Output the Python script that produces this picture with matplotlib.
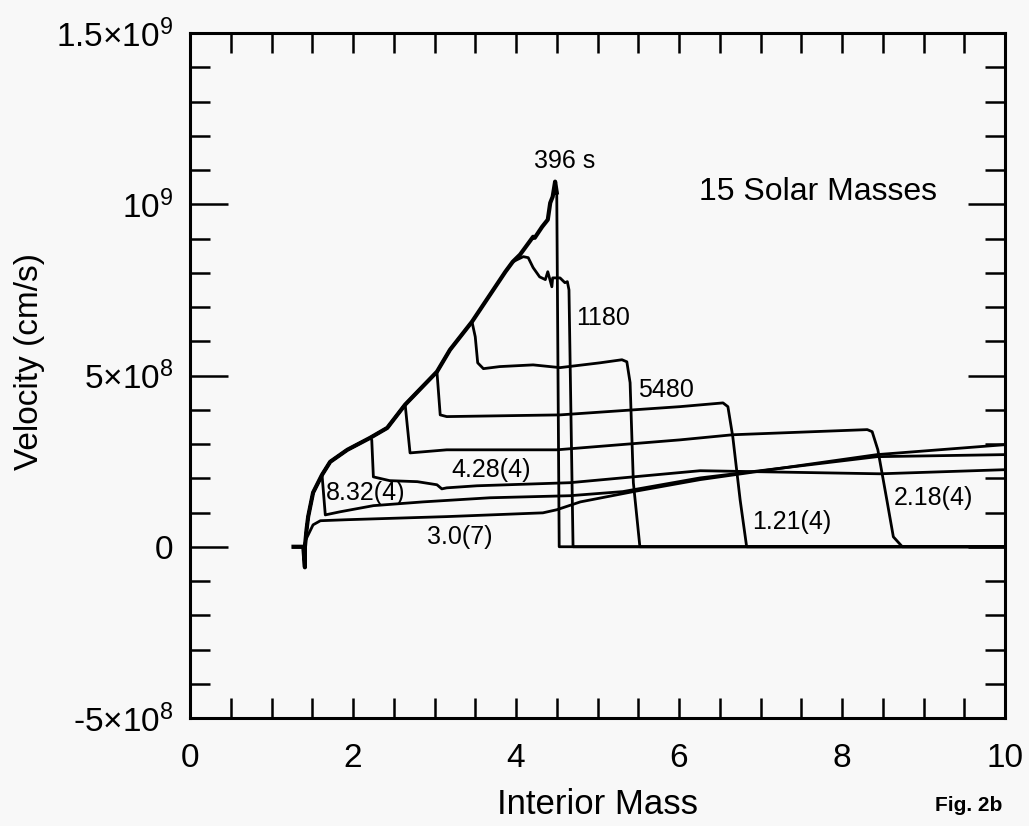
import numpy as np
import matplotlib
matplotlib.use("Agg")
from matplotlib import pyplot as plt
from matplotlib.ticker import MultipleLocator

plt.rcParams['font.family'] = ['Liberation Sans', 'DejaVu Sans']
plt.rcParams['mathtext.fontset'] = 'custom'
plt.rcParams['mathtext.rm'] = 'Liberation Sans'
plt.rcParams['mathtext.it'] = 'Liberation Sans:italic'
plt.rcParams['mathtext.bf'] = 'Liberation Sans:bold'

# velocities in units of 1e9 cm/s, mass in solar masses
# 396 s profile, which is also the common envelope the later profiles leave from
env_x = [1.27, 1.39, 1.41, 1.41, 1.43, 1.45, 1.51, 1.62, 1.72, 1.93, 2.21, 2.42, 2.64, 3.03,
         3.19, 3.46, 3.87, 3.96, 4.05, 4.21, 4.23, 4.32, 4.39, 4.42, 4.45, 4.48, 4.50, 4.53, 10.0]
env_y = [0.0, 0.0, -0.06, 0.0, 0.05, 0.088, 0.158, 0.21, 0.248, 0.283, 0.318, 0.347, 0.415, 0.511,
         0.575, 0.657, 0.803, 0.832, 0.853, 0.905, 0.902, 0.934, 0.955, 1.004, 1.022, 1.066, 1.034, 0.0, 0.0]

t1180_x = [3.96, 4.09, 4.15, 4.21, 4.29, 4.36, 4.39, 4.44, 4.45, 4.54, 4.60, 4.63, 4.65, 4.70, 10.0]
t1180_y = [0.832, 0.847, 0.844, 0.815, 0.788, 0.780, 0.803, 0.759, 0.785, 0.785, 0.771, 0.774, 0.750, 0.0, 0.0]

t5480_x = [3.46, 3.50, 3.53, 3.60, 3.80, 4.21, 4.54, 5.03, 5.30, 5.36, 5.40, 5.44, 5.52, 10.0]
t5480_y = [0.657, 0.613, 0.537, 0.520, 0.526, 0.531, 0.523, 0.537, 0.546, 0.540, 0.479, 0.187, 0.0, 0.0]

t121_x = [3.03, 3.07, 3.15, 4.54, 6.01, 6.54, 6.60, 6.66, 6.75, 6.83, 10.0]
t121_y = [0.511, 0.385, 0.380, 0.385, 0.409, 0.420, 0.409, 0.321, 0.137, 0.0, 0.0]

t218_x = [2.64, 2.70, 3.15, 4.50, 6.01, 6.66, 8.31, 8.37, 8.44, 8.55, 8.63, 8.74, 10.0]
t218_y = [0.415, 0.274, 0.283, 0.283, 0.312, 0.327, 0.342, 0.336, 0.283, 0.137, 0.029, 0.0, 0.0]

t428_x = [2.23, 2.25, 2.45, 2.79, 3.03, 3.09, 3.15, 3.52, 4.66, 6.26, 8.47, 10.0]
t428_y = [0.312, 0.204, 0.193, 0.190, 0.181, 0.169, 0.172, 0.178, 0.187, 0.222, 0.213, 0.225]

t832_x = [1.62, 1.66, 1.84, 2.25, 2.86, 3.68, 4.66, 5.31, 6.26, 8.43, 10.0]
t832_y = [0.21, 0.093, 0.102, 0.120, 0.131, 0.143, 0.149, 0.161, 0.201, 0.263, 0.269]

t3e7_x = [1.42, 1.51, 1.60, 1.93, 3.15, 4.33, 4.50, 4.79, 5.44, 6.26, 8.43, 10.0]
t3e7_y = [0.02, 0.064, 0.076, 0.079, 0.088, 0.099, 0.108, 0.131, 0.161, 0.196, 0.269, 0.298]

branches = [(t1180_x, t1180_y), (t5480_x, t5480_y), (t121_x, t121_y), (t218_x, t218_y),
            (t428_x, t428_y), (t832_x, t832_y), (t3e7_x, t3e7_y)]

# curve labels: text, x, y (left edge, vertical centre)
labels = [("1180", 4.74, 0.669), ("5480", 5.50, 0.458), ("4.28(4)", 3.21, 0.225),
          ("8.32(4)", 1.67, 0.158), ("3.0(7)", 2.91, 0.029), ("1.21(4)", 6.90, 0.073),
          ("2.18(4)", 8.63, 0.143)]

yticks = [-0.5, 0.0, 0.5, 1.0, 1.5]
ytick_labels = [r'-$\mathregular{5{\times}10^8}$', '0', r'$\mathregular{5{\times}10^8}$',
                r'$\mathregular{10^9}$', r'$\mathregular{1.5{\times}10^9}$']
xticks = [0, 2, 4, 6, 8, 10]

bg = '#f8f8f8'
fig = plt.figure(figsize=(10.29, 8.26), dpi=100, facecolor=bg)
ax = fig.add_axes([190 / 1029, 1 - 718 / 826, 815 / 1029, 685 / 826])
ax.set_facecolor(bg)

env_x = np.array(env_x)
env_y = np.array(env_y)
for bx, by in branches:
    keep = env_x < bx[0]
    xx = np.concatenate([env_x[keep], bx])
    yy = np.concatenate([env_y[keep], by])
    ax.plot(xx, yy * 1e9, color='black', lw=2.0, solid_joinstyle='round')
ax.plot(env_x[:-2], env_y[:-2] * 1e9, color='black', lw=3.0, solid_joinstyle='round')
ax.plot(env_x[-3:], env_y[-3:] * 1e9, color='black', lw=2.0, solid_joinstyle='round')

for txt, lx, ly in labels:
    ax.text(lx, ly * 1e9, txt, fontsize=18, ha='left', va='center')
ax.text(4.60, 1.125e9, "396 s", fontsize=18, ha='center', va='center')
ax.text(6.25, 1.036e9, "15 Solar Masses", fontsize=23, ha='left', va='center')

ax.set_xlim(0, 10)
ax.set_ylim(-0.5e9, 1.5e9)
ax.set_xticks(xticks)
ax.set_xticklabels([str(v) for v in xticks])
ax.set_yticks([v * 1e9 for v in yticks])
ax.set_yticklabels(ytick_labels)
ax.xaxis.set_minor_locator(MultipleLocator(0.5))
ax.yaxis.set_minor_locator(MultipleLocator(1e8))

ax.tick_params(which='both', direction='in', top=True, right=True, width=1.8, colors='black')
ax.tick_params(axis='y', which='major', length=27, labelsize=24, pad=12)
ax.tick_params(axis='y', which='minor', length=14.5)
ax.tick_params(axis='x', which='both', length=14.5, labelsize=24, pad=18)
for sp in ax.spines.values():
    sp.set_linewidth(2.2)

ax.set_xlabel("Interior Mass", fontsize=25, labelpad=10)
ax.set_ylabel("Velocity (cm/s)", fontsize=24)
ax.yaxis.set_label_coords(-0.178, 0.52)

fig.text(0.909, 1 - 815 / 826, "Fig. 2b", fontsize=15, fontweight='bold', ha='left', va='bottom')

plt.savefig("out.png", dpi=100, facecolor=bg)
